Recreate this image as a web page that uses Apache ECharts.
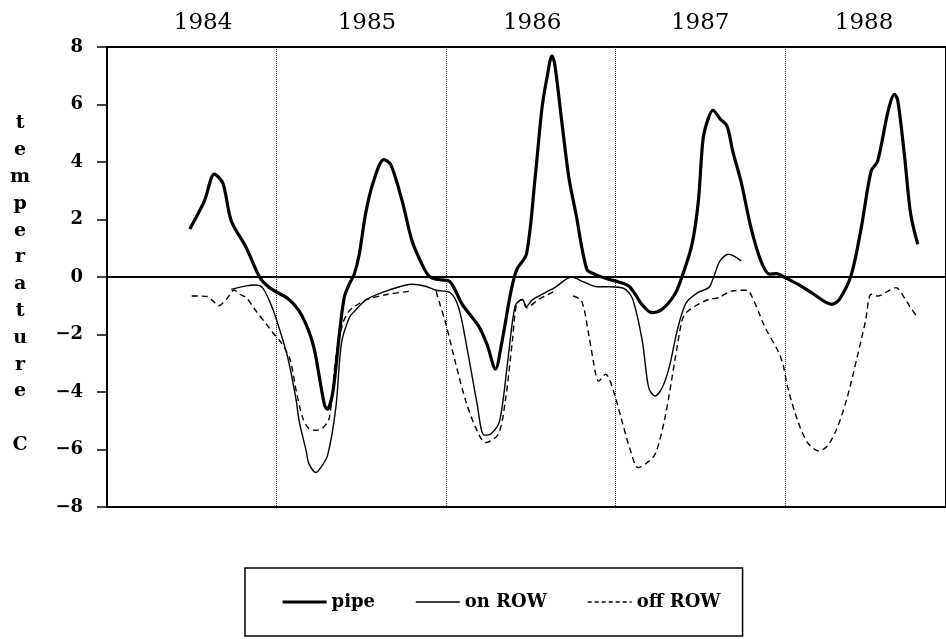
<!DOCTYPE html>
<html><head><meta charset="utf-8">
<script src="https://cdn.jsdelivr.net/npm/echarts@6/dist/echarts.min.js"></script>
<style>html,body{margin:0;padding:0;background:#fff}#c{width:946px;height:639px}</style>
</head><body><div id="c"></div>
<script>
// x = months since Jan 1984
const yearLabels = ['1984', '1985', '1986', '1987', '1988'];
const yearLabelMonths = [6.8, 18.4, 30.1, 42.0, 53.6];
const seriesNames = ['pipe', 'on ROW', 'off ROW'];

const pipeMonths = [5.86, 6.9, 7.6, 8.2, 8.8, 9.86, 10.8, 11.5, 12.8, 13.6, 14.3, 14.7, 15.0, 15.4, 15.6, 16.0, 16.45, 16.8, 17.15, 17.5, 17.86, 18.3, 18.8, 19.6, 20.1, 20.9, 21.6, 22.3, 22.8, 23.3, 24.2, 24.56, 25.15, 26.3, 26.9, 27.5, 27.97, 28.56, 29.0, 29.7, 30.3, 30.8, 31.15, 31.5, 31.7, 32.2, 32.7, 33.2, 33.97, 34.56, 35.5, 36.0, 36.9, 37.4, 37.86, 38.56, 39.3, 40.2, 40.7, 41.4, 41.86, 42.2, 42.56, 42.9, 43.4, 43.9, 44.3, 44.9, 45.6, 46.3, 46.9, 47.4, 48.0, 48.9, 49.9, 51.3, 51.85, 52.7, 53.4, 54.1, 54.56, 55.3, 55.74, 55.97, 56.45, 56.9, 57.4];
const pipeTemps = [1.67, 2.65, 3.58, 3.27, 1.95, 1.02, 0.0, -0.37, -0.75, -1.18, -1.9, -2.57, -3.38, -4.45, -4.6, -3.97, -1.99, -0.7, -0.25, 0.09, 0.79, 2.18, 3.22, 4.08, 3.9, 2.64, 1.25, 0.44, 0.03, -0.08, -0.14, -0.37, -0.95, -1.7, -2.34, -3.2, -2.23, -0.6, 0.25, 0.8, 3.4, 5.89, 6.93, 7.69, 7.4, 5.4, 3.45, 2.2, 0.27, 0.09, -0.08, -0.14, -0.3, -0.6, -0.95, -1.24, -1.12, -0.6, 0.0, 1.1, 2.6, 4.8, 5.5, 5.8, 5.5, 5.25, 4.38, 3.3, 1.7, 0.55, 0.1, 0.12, -0.02, -0.25, -0.55, -0.95, -0.78, 0.09, 1.71, 3.69, 4.03, 5.77, 6.35, 6.18, 4.27, 2.18, 1.14];

const onRowMonths = [8.8, 9.86, 10.5, 11.0, 11.5, 11.98, 12.8, 13.4, 13.6, 14.1, 14.3, 14.8, 15.0, 15.6, 16.2, 16.6, 17.15, 17.5, 18.4, 20.0, 21.6, 22.6, 23.3, 24.3, 24.9, 25.5, 26.2, 26.7, 27.2, 27.8, 28.4, 28.9, 29.4, 29.7, 30.1, 31.0, 31.7, 32.9, 33.7, 34.7, 35.6, 36.6, 37.2, 37.9, 38.35, 38.8, 39.3, 39.8, 40.4, 41.0, 41.8, 42.6, 42.9, 43.4, 44.0, 44.4, 44.9];
const onRowTemps = [-0.43, -0.31, -0.28, -0.37, -0.83, -1.45, -2.81, -4.31, -5.0, -6.05, -6.5, -6.8, -6.72, -6.23, -4.55, -2.3, -1.42, -1.2, -0.78, -0.45, -0.25, -0.33, -0.46, -0.55, -1.07, -2.5, -4.4, -5.5, -5.45, -5.0, -2.81, -1.0, -0.78, -1.03, -0.8, -0.55, -0.37, 0.0, -0.16, -0.34, -0.34, -0.4, -0.75, -2.23, -3.85, -4.14, -3.85, -3.15, -1.8, -0.9, -0.55, -0.37, -0.07, 0.56, 0.79, 0.73, 0.56];

const offRowMonths = [6.0, 7.1, 7.5, 7.9, 8.5, 9.0, 9.4, 9.86, 10.5, 11.3, 11.75, 12.35, 12.95, 13.4, 13.86, 14.3, 14.8, 15.3, 15.74, 16.2, 16.7, 17.15, 17.6, 18.4, 19.9, 21.4, 22.4, 23.3, 23.5, 24.0, 24.7, 25.4, 26.1, 26.8, 27.7, 28.2, 28.7, 29.0, 29.4, 29.7, 30.56, 31.7, 32.4, 33.0, 33.6, 34.1, 34.6, 34.8, 35.3, 35.86, 36.4, 37.0, 37.6, 38.1, 38.8, 39.5, 40.2, 40.7, 41.0, 41.86, 42.6, 43.3, 44.2, 45.3, 45.7, 46.6, 47.5, 47.86, 48.2, 48.9, 49.6, 50.4, 51.0, 51.7, 52.4, 53.1, 53.7, 54.1, 54.56, 55.3, 55.86, 56.45, 56.9, 57.4];
const offRowTemps = [-0.66, -0.68, -0.83, -1.0, -0.75, -0.45, -0.6, -0.72, -1.15, -1.65, -1.94, -2.3, -2.85, -3.97, -4.9, -5.28, -5.33, -5.24, -4.9, -2.8, -1.6, -1.18, -1.0, -0.78, -0.6, -0.5, null, -0.5, -0.83, -1.65, -3.04, -4.31, -5.24, -5.76, -5.47, -4.31, -2.23, -0.95, -0.78, -1.07, -0.78, -0.49, null, -0.66, -0.83, -1.99, -3.38, -3.62, -3.38, -3.97, -4.9, -5.94, -6.63, -6.51, -6.17, -4.9, -2.92, -1.53, -1.24, -0.95, -0.78, -0.72, -0.49, -0.46, -0.72, -1.76, -2.57, -3.04, -3.85, -5.0, -5.76, -6.05, -5.88, -5.24, -4.2, -2.81, -1.53, -0.6, -0.66, -0.49, -0.37, -0.72, -1.07, -1.42];

function zip(xs, ys) { return xs.map((x, i) => [x, ys[i] === null ? '-' : ys[i]]); }
const SERIF = '"DejaVu Serif", serif';
const lineWidths = [3.2, 1.4, 1.4];

const chart = echarts.init(document.getElementById('c'), null, { renderer: 'canvas' });
chart.setOption({
  animation: false,
  backgroundColor: '#fff',
  color: ['#000', '#000', '#000'],
  grid: { left: 107, right: -3, top: 47, bottom: 132, show: true, borderColor: '#000', borderWidth: 2, backgroundColor: 'transparent' },
  xAxis: [
    {
      type: 'value', min: 0, max: 59.4, interval: 12,
      axisLine: { onZero: true, lineStyle: { color: '#000', width: 2 } },
      axisTick: { show: false }, axisLabel: { show: false },
      splitLine: { show: true, lineStyle: { type: 'dotted', color: '#222', width: 1 } }
    },
    {
      type: 'value', position: 'top', min: 0, max: 59.4,
      axisLine: { show: false }, axisTick: { show: false }, splitLine: { show: false },
      axisLabel: {
        customValues: yearLabelMonths,
        formatter: v => yearLabels[yearLabelMonths.indexOf(v)] || '',
        fontFamily: SERIF, fontSize: 23, color: '#000', margin: 12
      }
    }
  ],
  yAxis: {
    type: 'value', min: -8, max: 8, interval: 2,
    axisLine: { show: true, lineStyle: { color: '#000', width: 2 } },
    axisTick: { show: true, length: 10, lineStyle: { color: '#000', width: 1.5 } },
    splitLine: { show: false },
    axisLabel: {
      formatter: v => (v < 0 ? '\u2212' + Math.abs(v) : String(v)),
      fontFamily: SERIF, fontWeight: 'bold', fontSize: 18, color: '#000', margin: 24
    }
  },
  legend: {
    data: [
      { name: seriesNames[0], lineStyle: { width: 3.2 } },
      { name: seriesNames[1], lineStyle: { width: 1.4 } },
      { name: seriesNames[2], lineStyle: { width: 1.4, type: [4, 3] } }
    ],
    left: 245, top: 568, orient: 'horizontal',
    itemWidth: 44, itemHeight: 14, itemGap: 40,
    padding: [25, 22, 25, 36],
    itemStyle: { opacity: 0, color: 'transparent', borderWidth: 0 },
    borderColor: '#000', borderWidth: 1.5, borderRadius: 0,
    textStyle: { fontFamily: SERIF, fontWeight: 'bold', fontSize: 18, color: '#000' }
  },
  graphic: [{
    type: 'text', left: 10, top: 110,
    style: {
      text: 't\ne\nm\np\ne\nr\na\nt\nu\nr\ne\n\nC',
      fontFamily: SERIF, fontWeight: 'bold', fontSize: 19, lineHeight: 26.8,
      fill: '#000', textAlign: 'center', align: 'center'
    }
  }],
  series: [
    { name: seriesNames[0], type: 'line', symbol: 'none', smooth: 0.3,
      lineStyle: { color: '#000', width: lineWidths[0] }, data: zip(pipeMonths, pipeTemps) },
    { name: seriesNames[1], type: 'line', symbol: 'none', smooth: 0.3,
      lineStyle: { color: '#000', width: lineWidths[1] }, data: zip(onRowMonths, onRowTemps) },
    { name: seriesNames[2], type: 'line', symbol: 'none', smooth: 0.3, connectNulls: false,
      lineStyle: { color: '#000', width: lineWidths[2], type: [6, 4] }, data: zip(offRowMonths, offRowTemps) }
  ]
});
</script></body></html>
